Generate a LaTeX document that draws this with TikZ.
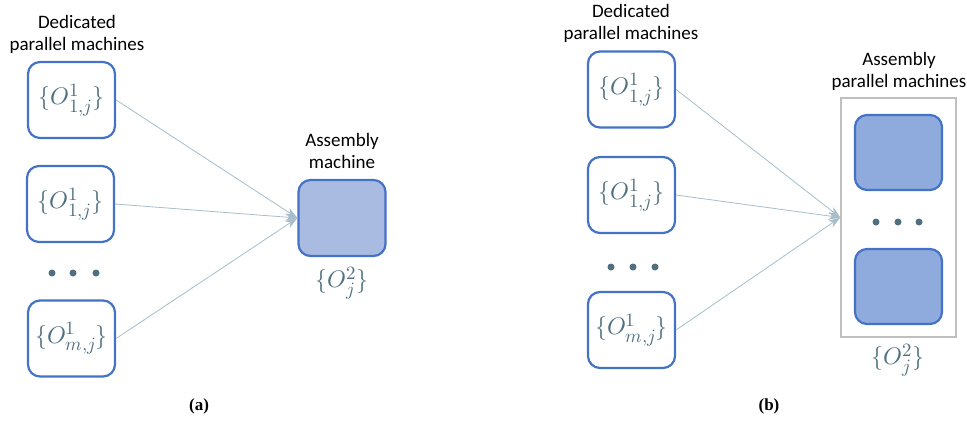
\documentclass[tikz,border=0pt]{standalone}
\usepackage{fontspec}
\usepackage{unicode-math}
\setmainfont{Carlito}
\setmathfont{Latin Modern Math}
\newfontfamily\capfont{Liberation Serif}
\usetikzlibrary{arrows.meta}
\definecolor{boxblue}{HTML}{4472C4}
\definecolor{fillA}{HTML}{A9BBE0}
\definecolor{fillB}{HTML}{8FAADC}
\definecolor{slate}{HTML}{50707F}
\definecolor{linkcol}{HTML}{A7BDCA}
\definecolor{framecol}{HTML}{BFBFBF}
% slightly enlarged script indices
\newcommand\idx[1]{\scalebox{1.12}{$\scriptstyle #1$}}
\newcommand\opset[2]{\{O^{\idx{#1}}_{\idx{#2}}\}}
\begin{document}
\begin{tikzpicture}[x=1pt,y=-1pt,
  machine/.style={draw=boxblue, line width=2.2pt, rounded corners=12pt,
    minimum width=87pt, minimum height=76pt, fill=white, inner sep=0pt,
    text=slate, font=\fontsize{24}{28}\selectfont},
  asmA/.style={machine, fill=fillA},
  asmB/.style={machine, fill=fillB, minimum height=75pt},
  mtext/.style={text=slate, font=\fontsize{24}{28}\selectfont},
  caption/.style={align=center, font=\fontsize{19}{22}\selectfont, text=black},
  sublabel/.style={font={\capfont\bfseries\fontsize{17}{20}\selectfont}},
  dot/.style={circle, fill=slate, inner sep=0pt, minimum size=7pt},
  feed/.style={draw=linkcol, line width=0.8pt, -{Stealth[length=12pt,width=8pt]}},
  group/.style={draw=framecol, line width=1.5pt, minimum width=115pt, minimum height=239pt, inner sep=0pt}
]
\useasboundingbox (0,0) rectangle (967,421);

% ---- (a) one assembly machine ----
\node[caption] (capA) at (77,34) {Dedicated\\parallel machines};
\node[machine] (a1) at (71.5,100) {$\opset{1}{1,j}$};
\node[machine] (a2) at (70.5,204) {$\opset{1}{1,j}$};
\node[machine] (a3) at (71.5,338.5) {$\opset{1}{m,j}$};
\node[dot] (ad1) at (52,273) {};
\node[dot] (ad2) at (73,273) {};
\node[dot] (ad3) at (96,273) {};
\node[caption] (capAm) at (342,150.5) {Assembly\\machine};
\node[asmA] (am) at (342,218) {};
\node[mtext] (setA) at (342,283) {$\opset{2}{j}$};
\draw[feed] (a1.east) -- (am.west);
\draw[feed] (a2.east) -- (am.west);
\draw[feed] (a3.east) -- (am.west);
\node[sublabel] (subA) at (199,406) {(a)};

% ---- (b) parallel assembly machines ----
\node[caption] (capB) at (631,23.5) {Dedicated\\parallel machines};
\node[machine] (b1) at (631.5,89.5) {$\opset{1}{1,j}$};
\node[machine] (b2) at (631.5,195) {$\opset{1}{1,j}$};
\node[machine] (b3) at (631.5,330) {$\opset{1}{m,j}$};
\node[dot] (bd1) at (611,267) {};
\node[dot] (bd2) at (633,267) {};
\node[dot] (bd3) at (655,267) {};
\node[caption] (capBm) at (899,71) {Assembly\\parallel machines};
\node[group] (grp) at (898.5,217.5) {};
\node[asmB] (c1) at (898.5,152.5) {};
\node[asmB] (c2) at (898.5,286.5) {};
\node[dot] (cd1) at (876,222) {};
\node[dot] (cd2) at (898,222) {};
\node[dot] (cd3) at (919,222) {};
\node[mtext] (setB) at (898,360) {$\opset{2}{j}$};
\draw[feed] (b1.east) -- (grp.west);
\draw[feed] (b2.east) -- (grp.west);
\draw[feed] (b3.east) -- (grp.west);
\node[sublabel] (subB) at (769,406) {(b)};
\end{tikzpicture}
\end{document}
